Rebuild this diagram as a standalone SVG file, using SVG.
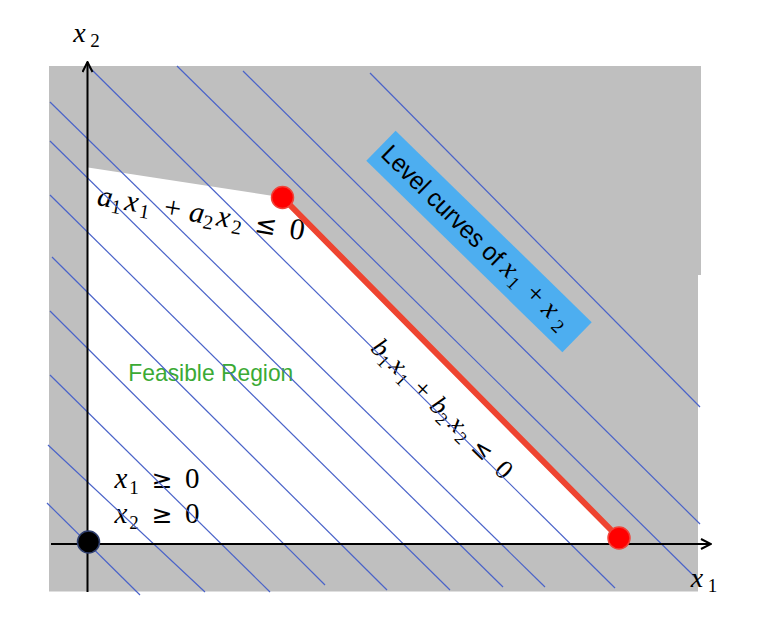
<svg xmlns="http://www.w3.org/2000/svg" width="779" height="624" viewBox="0 0 779 624">
  <defs>
    <marker id="arrow" viewBox="0 0 12 12" refX="11" refY="6" markerWidth="12" markerHeight="12" markerUnits="userSpaceOnUse" orient="auto">
      <path d="M1,1 L11,6 L1,11" fill="none" stroke="#000" stroke-width="2"/>
    </marker>
    <style>
      .lvl { stroke: #4A63C9; stroke-width: 1.2; fill: none; }
      .axis { stroke: #000; stroke-width: 2; fill: none; }
      .math { font-family: "Liberation Serif", "DejaVu Serif", serif; fill: #000; text-anchor: middle; }
      .it { font-style: italic; }
      .rel { font-family: "DejaVu Sans", sans-serif; }
      .sans { font-family: "Liberation Sans", Arial, sans-serif; }
      .reddot { fill: #FF0000; stroke: #F0443A; stroke-width: 1.5; }
    </style>
  </defs>

  <rect width="779" height="624" fill="#FFFFFF"/>

  <g id="background">
    <rect x="49" y="66" width="652" height="209" fill="#BFBFBF"/>
    <rect x="49" y="274" width="649" height="317.5" fill="#BFBFBF"/>
  </g>

  <g id="feasible-region">
    <polygon points="88,167.5 283,197.5 619,538 619,544 88,544" fill="#FFFFFF"/>
  </g>

  <g id="feasible-label">
    <text class="sans" x="128.3" y="380.7" font-size="24" fill="#3BAA35" textLength="165" lengthAdjust="spacingAndGlyphs">Feasible Region</text>
  </g>

  <g id="constraint-a-label" transform="translate(100,205.7) rotate(9.65)">
    <text class="math" font-size="30">
      <tspan class="it" x="7.5" y="0">a</tspan>
      <tspan x="19.8" y="5" font-size="20">1</tspan>
      <tspan class="it" x="34.6" y="0">x</tspan>
      <tspan x="48.4" y="5" font-size="20">1</tspan>
      <tspan x="75.8" y="0">+</tspan>
      <tspan class="it" x="100.5" y="0">a</tspan>
      <tspan x="113" y="5" font-size="20">2</tspan>
      <tspan class="it" x="127.6" y="0">x</tspan>
      <tspan x="142" y="5" font-size="20">2</tspan>
      <tspan class="rel" x="170.6" y="0" font-size="26">≤</tspan>
      <tspan x="198.5" y="0">0</tspan>
    </text>
  </g>

  <g id="constraint-b-label" transform="translate(371.8,351.6) rotate(44.6)">
    <text class="math" font-size="27">
      <tspan class="it" x="7" y="0">b</tspan>
      <tspan x="18.5" y="5" font-size="18">1</tspan>
      <tspan class="it" x="32" y="0">x</tspan>
      <tspan x="44.5" y="5" font-size="18">1</tspan>
      <tspan x="66" y="0">+</tspan>
      <tspan class="it" x="89.5" y="0">b</tspan>
      <tspan x="100.5" y="5" font-size="18">2</tspan>
      <tspan class="it" x="115.5" y="0">x</tspan>
      <tspan x="127.5" y="5" font-size="18">2</tspan>
      <tspan class="rel" x="151" y="0" font-size="23">≤</tspan>
      <tspan x="177" y="0">0</tspan>
    </text>
  </g>

  <g id="nonneg-label">
    <text class="math" font-size="29">
      <tspan class="it" x="124.5" y="488">x</tspan>
      <tspan x="137.5" y="494" font-size="19">1</tspan>
      <tspan class="rel" x="165.8" y="488" font-size="25">≥</tspan>
      <tspan x="192.2" y="488">0</tspan>
    </text>
    <text class="math" font-size="29">
      <tspan class="it" x="124.5" y="523">x</tspan>
      <tspan x="137.5" y="529" font-size="19">2</tspan>
      <tspan class="rel" x="165.8" y="523" font-size="25">≥</tspan>
      <tspan x="192.2" y="523">0</tspan>
    </text>
  </g>

  <g id="connectors">
    <g id="level-curves">
      <line class="lvl" x1="89" y1="67" x2="615" y2="588"/>
      <line class="lvl" x1="177" y1="66" x2="697" y2="579"/>
      <line class="lvl" x1="243" y1="71" x2="700" y2="524"/>
      <line class="lvl" x1="370" y1="73" x2="700" y2="407"/>
      <line class="lvl" x1="50" y1="102" x2="545" y2="587"/>
      <line class="lvl" x1="50" y1="141" x2="503" y2="587"/>
      <line class="lvl" x1="50" y1="195" x2="450" y2="590"/>
      <line class="lvl" x1="52" y1="257" x2="387" y2="590"/>
      <line class="lvl" x1="50" y1="311" x2="325" y2="585"/>
      <line class="lvl" x1="50" y1="375" x2="270" y2="592"/>
      <line class="lvl" x1="48" y1="445" x2="205" y2="592"/>
      <line class="lvl" x1="47" y1="503" x2="140" y2="595"/>
    </g>
    <g id="axes">
      <line class="axis" x1="87.5" y1="592" x2="87.5" y2="62" marker-end="url(#arrow)"/>
      <line class="axis" x1="51" y1="544" x2="711" y2="544" marker-end="url(#arrow)"/>
    </g>
    <line id="constraint-b" x1="283" y1="198" x2="619" y2="538" stroke="#EE4430" stroke-width="6" stroke-linecap="round"/>
  </g>

  <g id="origin">
    <circle cx="88.5" cy="542" r="11" fill="#000" stroke="#2F3F6F" stroke-width="1.5"/>
  </g>
  <g id="vertex-a">
    <circle class="reddot" cx="282.5" cy="197.5" r="11"/>
  </g>
  <g id="vertex-b">
    <circle class="reddot" cx="619" cy="538" r="11"/>
  </g>

  <g id="level-curves-label" transform="translate(479,241.5) rotate(44.3)">
    <rect x="-137" y="-21" width="274" height="42" fill="#4DAEF0"/>
    <text class="sans" x="-131" y="8" font-size="25.5" fill="#000" textLength="160" lengthAdjust="spacingAndGlyphs">Level curves of</text>
    <text class="math" font-size="28">
      <tspan class="it" x="44.4" y="7">x</tspan>
      <tspan x="57" y="12" font-size="19">1</tspan>
      <tspan x="80.9" y="7">+</tspan>
      <tspan class="it" x="102.2" y="7">x</tspan>
      <tspan x="115.5" y="12" font-size="19">2</tspan>
    </text>
  </g>

  <g id="axis-labels">
    <text class="math" font-size="28">
      <tspan class="it" x="83" y="41.5">x</tspan>
      <tspan x="95" y="46.5" font-size="19">2</tspan>
    </text>
    <text class="math" font-size="28">
      <tspan class="it" x="700.5" y="586.5">x</tspan>
      <tspan x="712.5" y="592" font-size="19">1</tspan>
    </text>
  </g>
</svg>
